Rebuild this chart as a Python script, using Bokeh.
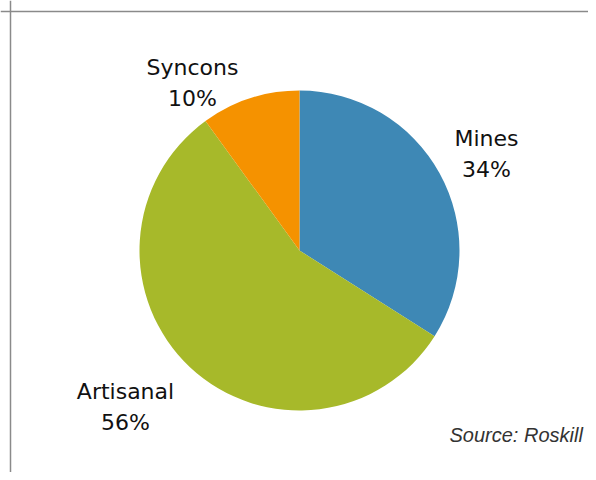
import numpy as np
from bokeh.plotting import figure
from bokeh.models import ColumnDataSource, Span, Range1d
from bokeh.core.properties import value
from bokeh.embed import file_html
from bokeh.resources import INLINE

# Data
categories = ["Mines", "Artisanal", "Syncons"]
shares = [34, 56, 10]
colors = ["#3e88b5", "#a7b92a", "#f59200"]
source_note = "Source: Roskill"

W, H = 588, 472
p = figure(width=W, height=H, output_backend="svg", toolbar_location=None,
           x_range=Range1d(0, W), y_range=Range1d(0, H), min_border=0)
p.axis.visible = False
p.grid.visible = False
p.outline_line_color = None
p.background_fill_color = "white"
p.border_fill_color = "white"

# pie geometry (layout)
cx, cy, r = 299, 222, 160
frac = np.array(shares, dtype=float) / sum(shares)
cum = np.concatenate([[0], np.cumsum(frac)])
start = np.pi / 2 - 2 * np.pi * cum[:-1]
end = np.pi / 2 - 2 * np.pi * cum[1:]
src = ColumnDataSource(dict(x=[cx] * 3, y=[cy] * 3, start=start, end=end,
                            color=colors, cat=categories))
p.wedge(x="x", y="y", radius=r, start_angle="start", end_angle="end",
        direction="clock", fill_color="color", line_color=None, source=src)

# labels (layout positions per slice)
label_pos = {"Mines": (486, 334), "Artisanal": (125, 81), "Syncons": (192, 405)}
lx, ly, lt = [], [], []
for c, s in zip(categories, shares):
    x0, y0 = label_pos[c]
    lx += [x0, x0]
    ly += [y0, y0 - 31]
    lt += [c, f"{s}%"]
p.text(x=lx, y=ly, text=lt, text_align="center", text_baseline="middle",
       text_font=value("DejaVu Sans"), text_font_size="22px", text_color="#111111")

p.text(x=[449], y=[38], text=[source_note], text_align="left", text_baseline="middle",
       text_font=value("Liberation Sans"), text_font_style="italic",
       text_font_size="20px", text_color="#333333")

# frame lines
p.add_layout(Span(location=10, dimension="height", line_color="#8a8a8a", line_width=1.5))
p.add_layout(Span(location=461, dimension="width", line_color="#8a8a8a", line_width=1.5))

open("out.html", "w").write(file_html(p, INLINE))
